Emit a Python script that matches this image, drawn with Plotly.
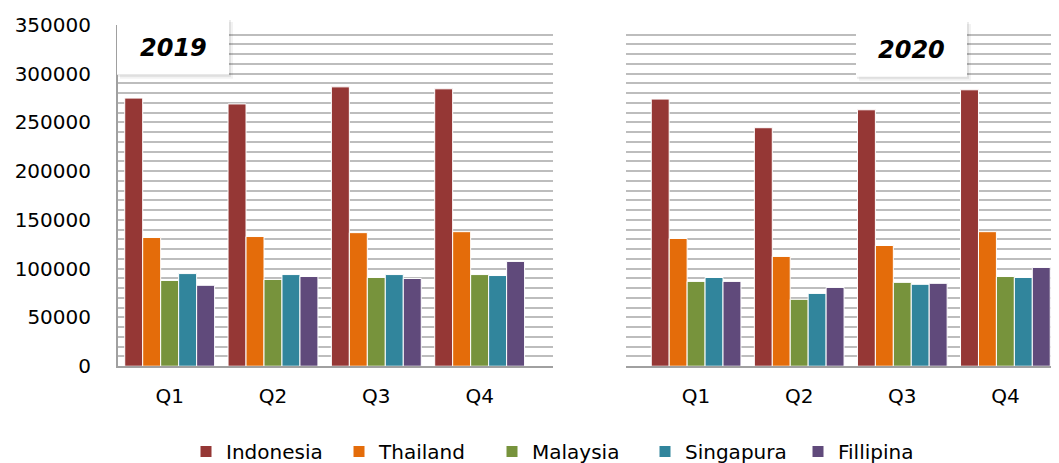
import plotly.graph_objects as go

quarters = ["Q1", "Q2", "Q3", "Q4"]
countries = ["Indonesia", "Thailand", "Malaysia", "Singapura", "Fillipina"]
colors = ["#953735", "#E46C0A", "#77933C", "#31859C", "#604A7B"]

values_2019 = {
    "Indonesia": [275000, 269000, 286500, 284500],
    "Thailand": [132000, 133000, 137000, 138000],
    "Malaysia": [88000, 89000, 91000, 94000],
    "Singapura": [95000, 94000, 94000, 93000],
    "Fillipina": [83000, 92000, 90000, 107500],
}
values_2020 = {
    "Indonesia": [274000, 244600, 263000, 283500],
    "Thailand": [131000, 112600, 123800, 138000],
    "Malaysia": [87000, 68600, 86000, 92000],
    "Singapura": [91000, 74700, 84000, 91000],
    "Fillipina": [87000, 80800, 85000, 101300],
}

W, H = 1059, 463
OFF = 8  # page body margin shifts the figure


def px_x(v):
    return (v - OFF) / W


def px_y(v):
    return (H - (v - OFF)) / H


fig = go.Figure()
for name, color in zip(countries, colors):
    fig.add_trace(
        go.Bar(
            x=quarters,
            y=values_2019[name],
            name=name,
            marker={"color": color, "line": {"color": "white", "width": 1}},
            xaxis="x",
            yaxis="y",
            legendgroup=name,
        )
    )
for name, color in zip(countries, colors):
    fig.add_trace(
        go.Bar(
            x=quarters,
            y=values_2020[name],
            name=name,
            marker={"color": color, "line": {"color": "white", "width": 1}},
            xaxis="x2",
            yaxis="y2",
            legendgroup=name,
            showlegend=False,
        )
    )

font = {"family": "DejaVu Sans", "size": 20, "color": "#000000"}
grid = {"gridcolor": "#BDBDBD", "gridwidth": 2}

fig.update_layout(
    width=W,
    height=H,
    margin={"l": 0, "r": 0, "t": 0, "b": 0},
    paper_bgcolor="white",
    plot_bgcolor="white",
    barmode="group",
    bargap=0.13,
    bargroupgap=0,
    font=font,
    legend={
        "orientation": "h",
        "x": px_x(186),
        "xanchor": "left",
        "y": px_y(452),
        "yanchor": "middle",
        "font": font,
        "itemwidth": 30,
        "entrywidth": 108,
    },
    xaxis={
        "domain": [px_x(118), px_x(553)],
        "range": [-0.5, 3.71],
        "showline": True,
        "linecolor": "#A0A0A0",
        "linewidth": 2,
        "showgrid": False,
        "ticks": "",
        "ticklabelstandoff": 11,
        "automargin": False,
        "anchor": "y",
    },
    xaxis2={
        "domain": [px_x(626), px_x(1059)],
        "range": [-0.68, 3.52],
        "showline": True,
        "linecolor": "#A0A0A0",
        "linewidth": 2,
        "showgrid": False,
        "ticks": "",
        "ticklabelstandoff": 11,
        "automargin": False,
        "anchor": "y2",
    },
    yaxis={
        "domain": [px_y(367), px_y(25)],
        "range": [0, 350000],
        "dtick": 50000,
        "tickformat": "d",
        "showline": True,
        "linecolor": "#A0A0A0",
        "linewidth": 2,
        "showgrid": True,
        **grid,
        "minor": {"dtick": 10000, "showgrid": True, **grid},
        "zeroline": False,
        "ticks": "",
        "ticklabelstandoff": 21,
        "automargin": False,
        "anchor": "x",
    },
    yaxis2={
        "domain": [px_y(367), px_y(25)],
        "range": [0, 350000],
        "dtick": 50000,
        "showline": False,
        "showgrid": True,
        **grid,
        "minor": {"dtick": 10000, "showgrid": True, **grid},
        "zeroline": False,
        "showticklabels": False,
        "ticks": "",
        "automargin": False,
        "anchor": "x2",
    },
)

boxes = [("2019", 117, 229, 19, 75), ("2020", 856, 967, 21, 77)]
for label, x0, x1, y0, y1 in boxes:
    for off, alpha in [(4, 0.05), (2, 0.08)]:
        fig.add_shape(
            type="rect",
            xref="paper",
            yref="paper",
            x0=px_x(x0 + off - 1),
            x1=px_x(x1 + off),
            y0=px_y(y0 + off - 1),
            y1=px_y(y1 + off),
            fillcolor=f"rgba(0,0,0,{alpha})",
            line={"width": 0},
            layer="above",
        )
    fig.add_shape(
        type="rect",
        xref="paper",
        yref="paper",
        x0=px_x(x0),
        x1=px_x(x1),
        y0=px_y(y0),
        y1=px_y(y1),
        fillcolor="white",
        line={"width": 0},
        layer="above",
    )
    fig.add_annotation(
        x=px_x((x0 + x1) / 2),
        y=px_y((y0 + y1) / 2 + 1),
        xref="paper",
        yref="paper",
        xanchor="center",
        yanchor="middle",
        text=label,
        showarrow=False,
        font={"family": "DejaVu Sans", "size": 24, "color": "black", "weight": "bold", "style": "italic"},
    )

fig.write_html("out.html")
